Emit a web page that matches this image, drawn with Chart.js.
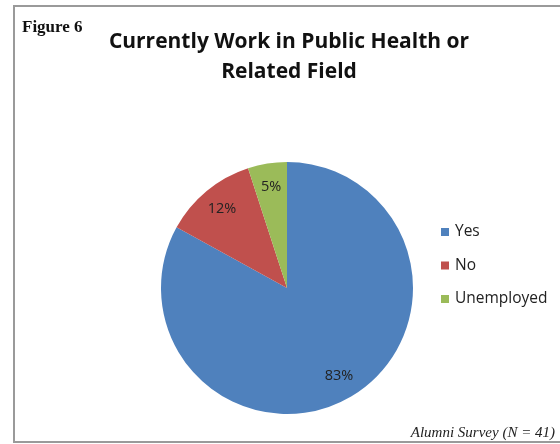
<!DOCTYPE html>
<html>
<head>
<meta charset="utf-8">
<script src="https://cdn.jsdelivr.net/npm/chart.js@4"></script>
<style>
  html, body { margin: 0; padding: 0; background: #fff; }
  #wrap { width: 560px; height: 444px; position: relative; }
</style>
</head>
<body>
<div id="wrap"><canvas id="myChart" width="560" height="444"></canvas></div>
<script>
var labels = ["Yes", "No", "Unemployed"];
var values = [83, 12, 5];
var colors = ["#4F81BD", "#C0504D", "#9BBB59"];
var titleLines = ["Currently Work in Public Health or", "Related Field"];
var figureText = "Figure 6";
var sourceText = "Alumni Survey (N = 41)";

// frame, title, labels, legend, notes
var decor = {
  id: "decor",
  beforeDraw: function(chart) {
    var ctx = chart.ctx;
    ctx.save();
    ctx.fillStyle = "#fff";
    ctx.fillRect(0, 0, chart.width, chart.height);
    ctx.strokeStyle = "#9a9a9a";
    ctx.lineWidth = 2;
    ctx.strokeRect(14, 6, 560, 436);
    ctx.restore();
  },
  afterDraw: function(chart) {
    var ctx = chart.ctx;
    ctx.save();
    // figure number
    ctx.fillStyle = "#111";
    ctx.font = "bold 17px 'Liberation Serif', serif";
    ctx.textAlign = "left";
    ctx.textBaseline = "alphabetic";
    ctx.fillText(figureText, 22, 32);

    // title
    ctx.font = "bold 21px 'Open Sans', sans-serif";
    ctx.textAlign = "center";
    ctx.fillText(titleLines[0], 289, 48);
    ctx.fillText(titleLines[1], 289, 78);

    // slice labels
    var meta = chart.getDatasetMeta(0);
    ctx.font = "14.5px 'Open Sans', sans-serif";
    ctx.fillStyle = "#222";
    ctx.textBaseline = "middle";
    meta.data.forEach(function(arc, i) {
      var mid = (arc.startAngle + arc.endAngle) / 2;
      var r = arc.outerRadius * 0.81;
      ctx.fillText(values[i] + "%", arc.x + Math.cos(mid) * r, arc.y + Math.sin(mid) * r);
    });

    // legend
    ctx.textAlign = "left";
    ctx.font = "15.5px 'Open Sans', sans-serif";
    for (var i = 0; i < labels.length; i++) {
      var y = 232 + i * 33.5;
      ctx.fillStyle = colors[i];
      ctx.fillRect(441, y - 4, 8, 8);
      ctx.fillStyle = "#222";
      ctx.fillText(labels[i], 455, y);
    }

    // source note
    ctx.font = "italic 15px 'Liberation Serif', serif";
    ctx.textAlign = "right";
    ctx.textBaseline = "alphabetic";
    ctx.fillText(sourceText, 555, 437);
    ctx.restore();
  }
};

new Chart("myChart", {
  type: "pie",
  data: {
    labels: labels,
    datasets: [{
      data: values,
      backgroundColor: colors,
      borderWidth: 0
    }]
  },
  options: {
    responsive: false,
    animation: false,
    layout: { padding: { left: 161, right: 147, top: 162, bottom: 30 } },
    plugins: {
      legend: { display: false },
      tooltip: { enabled: false },
      title: { display: false }
    }
  },
  plugins: [decor]
});
</script>
</body>
</html>
